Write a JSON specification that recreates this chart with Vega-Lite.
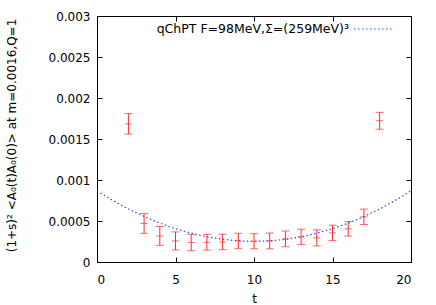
{
  "$schema": "https://vega.github.io/schema/vega-lite/v6.json",
  "autosize": "none",
  "width": 314,
  "height": 246,
  "padding": {"left": 97, "top": 16, "right": 25, "bottom": 43},
  "background": "white",
  "config": {
    "view": {"stroke": "black", "strokeWidth": 1},
    "font": "DejaVu Sans",
    "axis": {"labelFont": "DejaVu Sans", "labelFontSize": 12, "labelColor": "black", "titleFont": "DejaVu Sans", "titleFontSize": 12, "titleFontWeight": "normal", "titleColor": "black", "domain": false, "grid": false, "tickColor": "black", "tickSize": -5, "tickWidth": 1}
  },
  "datasets": {
    "points": [
      {"t": 2, "y": 0.001685, "err": 0.000125},
      {"t": 3, "y": 0.00047, "err": 0.00012},
      {"t": 4, "y": 0.000318, "err": 0.000115},
      {"t": 5, "y": 0.000257, "err": 0.00011},
      {"t": 6, "y": 0.000237, "err": 0.0001},
      {"t": 7, "y": 0.000241, "err": 0.000096},
      {"t": 8, "y": 0.000245, "err": 0.000094},
      {"t": 9, "y": 0.000257, "err": 0.000094},
      {"t": 10, "y": 0.000253, "err": 0.000092},
      {"t": 11, "y": 0.000257, "err": 0.000096},
      {"t": 12, "y": 0.000282, "err": 0.000096},
      {"t": 13, "y": 0.000306, "err": 0.000094},
      {"t": 14, "y": 0.000294, "err": 0.000098},
      {"t": 15, "y": 0.000355, "err": 0.000094},
      {"t": 16, "y": 0.000404, "err": 0.000088},
      {"t": 17, "y": 0.000551, "err": 0.000094},
      {"t": 18, "y": 0.001722, "err": 0.000103}
    ],
    "curve": [
      {"t": 0, "y": 0.000869}, {"t": 0.5, "y": 0.000809}, {"t": 1, "y": 0.000752}, {"t": 1.5, "y": 0.000698},
      {"t": 2, "y": 0.000647}, {"t": 2.5, "y": 0.0006}, {"t": 3, "y": 0.000555}, {"t": 3.5, "y": 0.000513},
      {"t": 4, "y": 0.000475}, {"t": 4.5, "y": 0.000439}, {"t": 5, "y": 0.000407}, {"t": 5.5, "y": 0.000378},
      {"t": 6, "y": 0.000352}, {"t": 6.5, "y": 0.000328}, {"t": 7, "y": 0.000308}, {"t": 7.5, "y": 0.000292},
      {"t": 8, "y": 0.000278}, {"t": 8.5, "y": 0.000267}, {"t": 9, "y": 0.000259}, {"t": 9.5, "y": 0.000254},
      {"t": 10, "y": 0.000253}, {"t": 10.5, "y": 0.000254}, {"t": 11, "y": 0.000259}, {"t": 11.5, "y": 0.000267},
      {"t": 12, "y": 0.000278}, {"t": 12.5, "y": 0.000292}, {"t": 13, "y": 0.000308}, {"t": 13.5, "y": 0.000328},
      {"t": 14, "y": 0.000352}, {"t": 14.5, "y": 0.000378}, {"t": 15, "y": 0.000407}, {"t": 15.5, "y": 0.000439},
      {"t": 16, "y": 0.000475}, {"t": 16.5, "y": 0.000513}, {"t": 17, "y": 0.000555}, {"t": 17.5, "y": 0.0006},
      {"t": 18, "y": 0.000647}, {"t": 18.5, "y": 0.000698}, {"t": 19, "y": 0.000752}, {"t": 19.5, "y": 0.000809},
      {"t": 20, "y": 0.000869}
    ]
  },
  "resolve": {"axis": {"x": "independent", "y": "independent"}},
  "layer": [
    {
      "data": {"name": "curve"},
      "mark": {"type": "line", "strokeDash": [1.5, 2.5], "strokeWidth": 1.2, "interpolate": "monotone"},
      "encoding": {
        "x": {"field": "t", "type": "quantitative", "scale": {"domain": [0, 20], "nice": false},
              "axis": {"orient": "bottom", "values": [0, 5, 10, 15, 20], "title": "t", "labelPadding": 17, "titleX": 157, "titleY": 36, "titleBaseline": "middle"}},
        "y": {"field": "y", "type": "quantitative", "scale": {"domain": [0, 0.003], "nice": false},
              "axis": {"orient": "left", "values": [0, 0.0005, 0.001, 0.0015, 0.002, 0.0025, 0.003], "format": "~g", "labelPadding": 12,
                       "title": "(1+s)² <A₀(t)A₀(0)> at m=0.0016,Q=1", "titleAngle": -90, "titleX": -86, "titleY": 119, "titleAlign": "center", "titleBaseline": "middle"}},
        "color": {"datum": "qChPT F=98MeV,Σ=(259MeV)³", "type": "nominal",
                  "scale": {"range": ["#3344ff"]},
                  "legend": {"title": null, "orient": "none", "legendX": 256, "legendY": -7, "symbolType": "stroke", "symbolSize": 1444, "symbolStrokeWidth": 1.2, "symbolDash": [1.5, 2.5], "labelAlign": "right", "labelOffset": -44, "labelFont": "DejaVu Sans", "labelFontSize": 12.5, "labelColor": "black", "labelLimit": 400}}
      }
    },
    {
      "data": {"name": "points"},
      "mark": {"type": "errorbar", "color": "#ff2a2a", "ticks": {"size": 8, "thickness": 1}, "rule": {"strokeWidth": 1}},
      "encoding": {
        "x": {"field": "t", "type": "quantitative", "axis": null},
        "y": {"field": "y", "type": "quantitative", "axis": null},
        "yError": {"field": "err"}
      }
    },
    {
      "data": {"name": "points"},
      "mark": {"type": "tick", "orient": "horizontal", "color": "#ff2a2a", "size": 7, "thickness": 1},
      "encoding": {
        "x": {"field": "t", "type": "quantitative", "axis": {"orient": "top", "values": [0, 5, 10, 15, 20], "labels": false, "title": null}},
        "y": {"field": "y", "type": "quantitative", "axis": {"orient": "right", "values": [0, 0.0005, 0.001, 0.0015, 0.002, 0.0025, 0.003], "labels": false, "title": null}}
      }
    }
  ]
}
